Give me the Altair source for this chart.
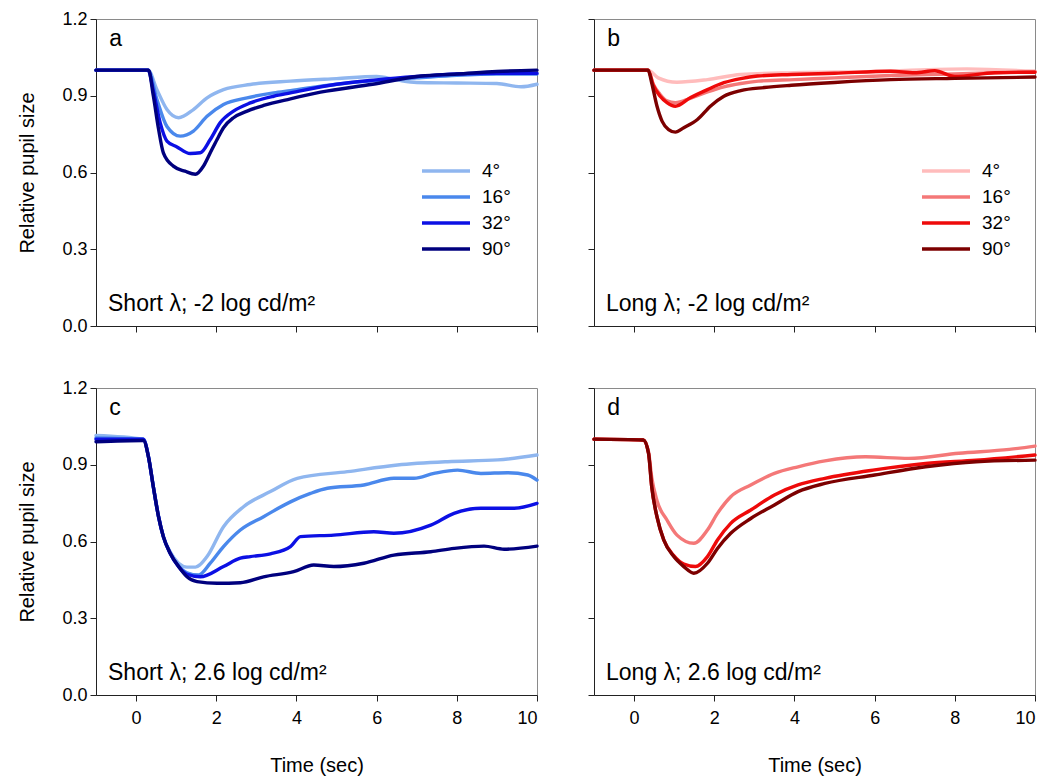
import altair as alt
import pandas as pd

angles = ["4°", "16°", "32°", "90°"]
blue_colors = ["#8fb6ef", "#4a88ec", "#0c10e4", "#00007e"]
red_colors = ["#ffbcbc", "#f47878", "#ee0a0a", "#7c0000"]
line_widths = [3.4, 3.4, 2.0, 3.4]
x_ticks = [0, 2, 4, 6, 8, 10]
y_ticks = [0.0, 0.3, 0.6, 0.9, 1.2]

# ---- panel a: Short lambda, -2 log cd/m2 ----
a4_t = [-1, 0.3, 0.52, 0.77, 1.06, 1.43, 1.77, 2.18, 2.85, 3.85, 5, 6, 6.5, 7, 8, 9, 9.6, 10]
a4_v = [1.0, 1.0, 0.924, 0.846, 0.814, 0.846, 0.892, 0.924, 0.944, 0.957, 0.967, 0.975, 0.962, 0.952, 0.95, 0.948, 0.935, 0.945]
a16_t = [-1, 0.3, 0.52, 0.77, 1.1, 1.43, 1.77, 2.18, 2.77, 3.43, 3.85, 5, 6, 7, 8, 9, 10]
a16_v = [1.0, 1.0, 0.885, 0.78, 0.742, 0.762, 0.82, 0.866, 0.892, 0.911, 0.92, 0.945, 0.96, 0.97, 0.98, 0.985, 0.985]
a32_t = [-1, 0.3, 0.43, 0.6, 0.77, 1.02, 1.35, 1.6, 1.85, 2.1, 2.43, 2.85, 3.43, 3.85, 5, 6, 7, 8, 9, 10]
a32_v = [1.0, 1.0, 0.92, 0.795, 0.723, 0.70, 0.674, 0.677, 0.729, 0.795, 0.84, 0.872, 0.898, 0.911, 0.945, 0.962, 0.975, 0.985, 0.988, 0.988]
a90_t = [-1, 0.31, 0.43, 0.56, 0.68, 0.93, 1.22, 1.48, 1.68, 1.85, 2.02, 2.18, 2.43, 2.77, 3.18, 3.85, 4.6, 5.9, 7.1, 8, 9, 10]
a90_v = [1.0, 1.0, 0.90, 0.77, 0.677, 0.625, 0.605, 0.593, 0.625, 0.677, 0.729, 0.775, 0.814, 0.84, 0.862, 0.888, 0.914, 0.945, 0.977, 0.985, 0.995, 1.0]

# ---- panel b: Long lambda, -2 log cd/m2 ----
b4_t = [-1, 0.35, 0.6, 1.07, 1.83, 2.66, 4, 6, 8.3, 10]
b4_v = [1.0, 1.0, 0.97, 0.953, 0.963, 0.983, 0.99, 0.995, 1.005, 0.995]
b16_t = [-1, 0.35, 0.48, 0.65, 0.82, 1.03, 1.4, 1.83, 2.24, 2.66, 3.1, 4, 5, 6.4, 8, 10]
b16_v = [1.0, 1.0, 0.945, 0.905, 0.88, 0.873, 0.89, 0.915, 0.935, 0.948, 0.957, 0.963, 0.97, 0.979, 0.985, 0.995]
b32_t = [-1, 0.35, 0.48, 0.65, 0.82, 1.03, 1.4, 1.83, 2.24, 2.66, 3.08, 3.92, 5, 6.4, 7, 7.5, 8, 9, 10]
b32_v = [1.0, 1.0, 0.94, 0.898, 0.873, 0.859, 0.892, 0.924, 0.951, 0.967, 0.977, 0.983, 0.988, 0.996, 0.99, 0.998, 0.975, 0.99, 0.992]
b90_t = [-1, 0.35, 0.44, 0.57, 0.7, 0.86, 1.03, 1.24, 1.58, 1.91, 2.24, 2.66, 3.25, 3.92, 5, 6.4, 8, 10]
b90_v = [1.0, 1.0, 0.95, 0.86, 0.80, 0.768, 0.758, 0.775, 0.807, 0.86, 0.898, 0.92, 0.932, 0.941, 0.952, 0.963, 0.968, 0.973]

# ---- panel c: Short lambda, 2.6 log cd/m2 ----
c4_t = [-1, 0.18, 0.31, 0.43, 0.56, 0.68, 0.85, 1.06, 1.27, 1.48, 1.6, 1.77, 2.18, 2.68, 3.35, 4.02, 5.27, 6.52, 7.77, 9.02, 10]
c4_v = [1.015, 1.0, 0.93, 0.814, 0.697, 0.619, 0.56, 0.515, 0.50, 0.50, 0.51, 0.541, 0.658, 0.736, 0.795, 0.847, 0.873, 0.899, 0.912, 0.919, 0.938]
c16_t = [-1, 0.18, 0.31, 0.43, 0.56, 0.68, 0.85, 1.06, 1.27, 1.56, 1.85, 2.18, 2.6, 3.18, 3.85, 4.35, 4.77, 5.68, 6.43, 6.93, 7.43, 8.02, 8.6, 9.27, 9.77, 10]
c16_v = [1.005, 1.0, 0.93, 0.814, 0.697, 0.619, 0.554, 0.505, 0.478, 0.469, 0.515, 0.58, 0.645, 0.697, 0.755, 0.788, 0.808, 0.821, 0.847, 0.847, 0.866, 0.879, 0.866, 0.869, 0.86, 0.84]
c32_t = [-1, 0.18, 0.31, 0.43, 0.56, 0.68, 0.85, 1.06, 1.27, 1.6, 2.18, 2.6, 2.85, 3.35, 3.85, 4.1, 4.93, 5.93, 6.43, 7.35, 7.93, 8.6, 9.43, 10]
c32_v = [1.0, 1.0, 0.93, 0.814, 0.697, 0.619, 0.554, 0.502, 0.472, 0.462, 0.502, 0.535, 0.541, 0.552, 0.58, 0.619, 0.625, 0.638, 0.632, 0.664, 0.71, 0.73, 0.73, 0.749]
c90_t = [-1, 0.18, 0.31, 0.43, 0.56, 0.68, 0.85, 1.06, 1.27, 1.52, 2.02, 2.6, 3.18, 3.93, 4.43, 4.93, 5.68, 6.43, 7.35, 7.93, 8.68, 9.18, 10]
c90_v = [0.99, 0.995, 0.93, 0.814, 0.697, 0.619, 0.554, 0.502, 0.462, 0.443, 0.437, 0.439, 0.462, 0.482, 0.508, 0.502, 0.515, 0.547, 0.56, 0.573, 0.582, 0.57, 0.582]

# ---- panel d: Long lambda, 2.6 log cd/m2 ----
d16_t = [-1, 0.23, 0.36, 0.44, 0.57, 0.82, 1.07, 1.49, 1.83, 2.08, 2.41, 2.91, 3.5, 4.09, 4.76, 5.77, 6.85, 8.1, 9.36, 10]
d16_v = [1.0, 0.997, 0.95, 0.85, 0.76, 0.684, 0.625, 0.593, 0.645, 0.71, 0.775, 0.821, 0.866, 0.892, 0.915, 0.931, 0.925, 0.945, 0.96, 0.973]
d32_t = [-1, 0.23, 0.36, 0.44, 0.57, 0.74, 0.99, 1.24, 1.53, 1.83, 2.08, 2.41, 2.91, 3.5, 4.09, 4.76, 6.0, 7.27, 8.53, 10]
d32_v = [1.0, 0.997, 0.945, 0.814, 0.697, 0.606, 0.545, 0.512, 0.502, 0.541, 0.606, 0.671, 0.723, 0.782, 0.821, 0.847, 0.88, 0.905, 0.918, 0.938]
d90_t = [-1, 0.23, 0.36, 0.44, 0.57, 0.74, 0.99, 1.24, 1.49, 1.83, 2.08, 2.41, 2.91, 3.5, 4.09, 4.76, 6.0, 7.27, 8.53, 10]
d90_v = [1.0, 0.997, 0.945, 0.814, 0.697, 0.606, 0.541, 0.502, 0.476, 0.515, 0.573, 0.632, 0.69, 0.743, 0.795, 0.827, 0.86, 0.892, 0.912, 0.918]


def build(series):
    rows = []
    for ang, ts, vs in series:
        for t, v in zip(ts, vs):
            rows.append({"angle": ang, "t": t, "v": v})
    return pd.DataFrame(rows)


def panel(df, colors, letter, label, xlabels, ylabels, legend_x=None):
    x = alt.X("t:Q", scale=alt.Scale(domain=[-1, 10], nice=False, zero=False),
              axis=alt.Axis(values=x_ticks, labels=xlabels, format="d",
                            title="Time (sec)" if xlabels else None,
                            labelPadding=8, titlePadding=28))
    y = alt.Y("v:Q", scale=alt.Scale(domain=[0, 1.2], nice=False),
              axis=alt.Axis(values=y_ticks, format=".1f", labels=ylabels,
                            title="Relative pupil size" if ylabels else None,
                            labelPadding=3, titlePadding=24))
    if legend_x is not None:
        leg = alt.Legend(title=None, orient="none", legendX=legend_x, legendY=138,
                         symbolType="M-2,0H2", symbolSize=576, labelFontSize=19,
                         rowPadding=2, labelOffset=22)
    else:
        leg = None
    color = alt.Color("angle:O", scale=alt.Scale(domain=angles, range=colors),
                      sort=angles, legend=leg)
    sw = alt.StrokeWidth("angle:O", scale=alt.Scale(domain=angles, range=line_widths),
                         sort=angles, legend=leg)
    lines = alt.Chart(df).mark_line(strokeCap="round", strokeJoin="round",
                                    interpolate="monotone").encode(
        x=x, y=y, color=color, strokeWidth=sw, order="t:Q"
    )
    letter_df = pd.DataFrame({"t": [-0.67], "v": [1.122], "s": [letter]})
    letter_txt = alt.Chart(letter_df).mark_text(
        align="left", baseline="middle", fontSize=23, color="black"
    ).encode(x="t:Q", y="v:Q", text="s:N")
    label_df = pd.DataFrame({"t": [-0.7], "v": [0.085], "s": [label]})
    label_txt = alt.Chart(label_df).mark_text(
        align="left", baseline="middle", fontSize=23, color="black"
    ).encode(x="t:Q", y="v:Q", text="s:N")
    return alt.layer(lines, letter_txt, label_txt).properties(width=441, height=307)


df_a = build([("4°", a4_t, a4_v), ("16°", a16_t, a16_v), ("32°", a32_t, a32_v), ("90°", a90_t, a90_v)])
df_b = build([("4°", b4_t, b4_v), ("16°", b16_t, b16_v), ("32°", b32_t, b32_v), ("90°", b90_t, b90_v)])
df_c = build([("4°", c4_t, c4_v), ("16°", c16_t, c16_v), ("32°", c32_t, c32_v), ("90°", c90_t, c90_v)])
df_d = build([("16°", d16_t, d16_v), ("32°", d32_t, d32_v), ("90°", d90_t, d90_v)])

pa = panel(df_a, blue_colors, "a", "Short λ; -2 log cd/m²", False, True, legend_x=336)
pb = panel(df_b, red_colors, "b", "Long λ; -2 log cd/m²", False, False, legend_x=338)
pc = panel(df_c, blue_colors, "c", "Short λ; 2.6 log cd/m²", True, True)
pd_ = panel(df_d, red_colors, "d", "Long λ; 2.6 log cd/m²", True, False)

top = alt.hconcat(pa, pb, spacing=57, bounds="flush").resolve_scale(
    color="independent", strokeWidth="independent")
bottom = alt.hconcat(pc, pd_, spacing=57, bounds="flush").resolve_scale(
    color="independent", strokeWidth="independent")

chart = alt.vconcat(top, bottom, spacing=42).resolve_scale(
    color="independent", strokeWidth="independent"
).properties(
    padding={"left": 17, "top": 9, "right": 5, "bottom": 5}
).configure(
    font="Liberation Sans", background="white"
).configure_axis(
    labelFontSize=18, titleFontSize=20, titleFontWeight="normal",
    labelColor="black", titleColor="black", tickColor="#222", domainColor="#222",
    tickSize=6, grid=False, labelFont="Liberation Sans",
    titleFont="Liberation Sans"
).configure_view(
    stroke="#8a8a8a", strokeWidth=1
).configure_legend(
    labelFont="Liberation Sans", labelColor="black"
)

chart.save("out.html", embed_options={"renderer": "svg", "actions": False})
